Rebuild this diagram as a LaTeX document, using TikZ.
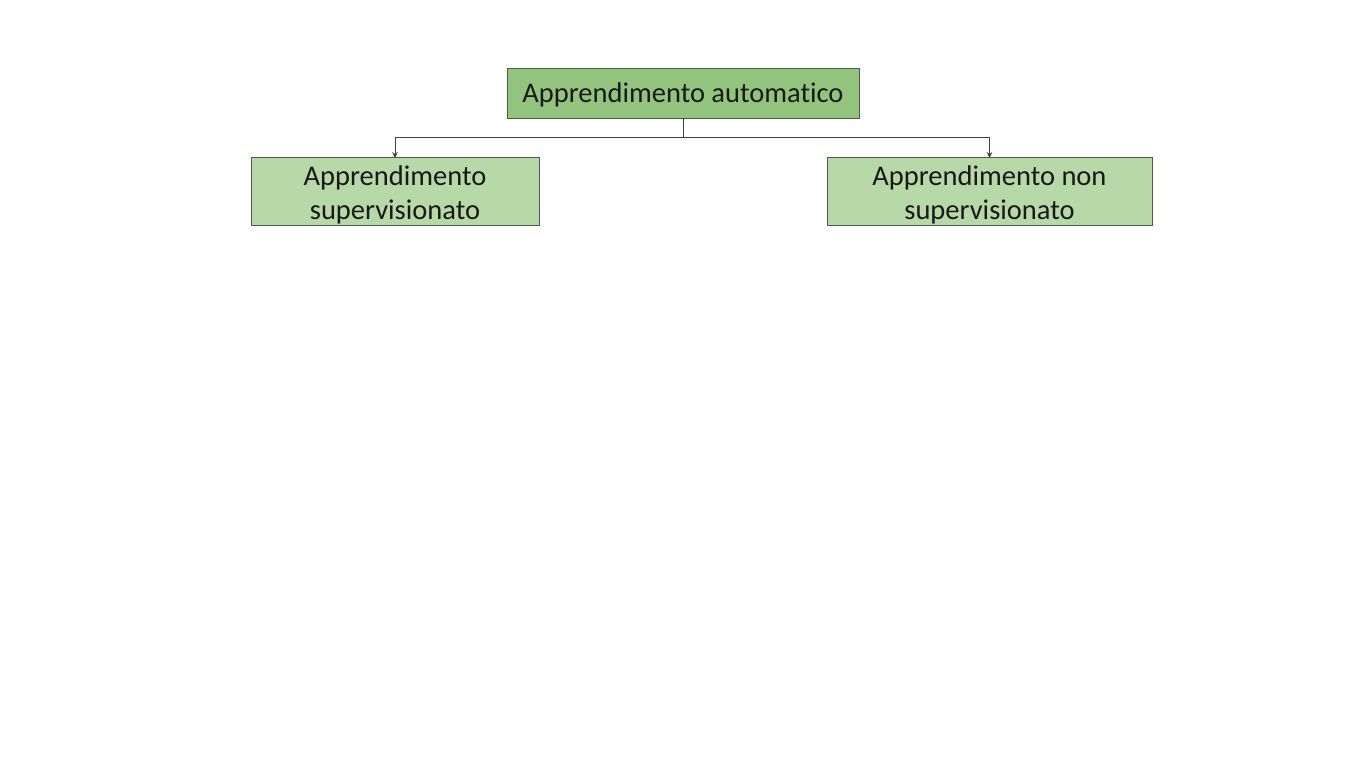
\documentclass[tikz,border=0pt]{standalone}
\usepackage{fontspec}
\setmainfont{Carlito}[Ligatures={NoCommon}]
\usetikzlibrary{arrows.meta}
\definecolor{topfill}{RGB}{147,196,125}
\definecolor{subfill}{RGB}{183,216,167}
\definecolor{boxline}{RGB}{70,95,70}
\definecolor{conn}{RGB}{64,64,64}
\tikzset{
  box/.style={draw=boxline, line width=0.9pt, inner sep=0pt},
  lbl/.style={inner sep=0pt, align=center, font=\fontsize{28.5}{34}\selectfont, text=black!90},
  link/.style={draw=conn, line width=0.9pt, -{Stealth[length=6pt,width=5.5pt]}}
}
\begin{document}
\begin{tikzpicture}[x=1pt,y=-1pt]
\useasboundingbox (0,0) rectangle (1365,768);
\node[box, fill=topfill, minimum width=352pt, minimum height=50pt] (top) at (683,93) {};
\node[lbl] (topT) at (683,95) {Apprendimento automatico};
\node[box, fill=subfill, minimum width=288pt, minimum height=68pt] (sup) at (395,191) {};
\node[lbl] (supT) at (395,194.5) {Apprendimento\\supervisionato};
\node[box, fill=subfill, minimum width=325pt, minimum height=68pt] (uns) at (989.5,191) {};
\node[lbl] (unsT) at (989.5,194.5) {Apprendimento non\\supervisionato};
\coordinate (mid) at (683,137);
\draw[draw=conn, line width=0.9pt] (top.south) -- (mid);
\draw[link] (mid) -| ([yshift=-1.5pt]sup.north);
\draw[link] (mid) -| ([yshift=-1.5pt]uns.north);
\end{tikzpicture}
\end{document}
